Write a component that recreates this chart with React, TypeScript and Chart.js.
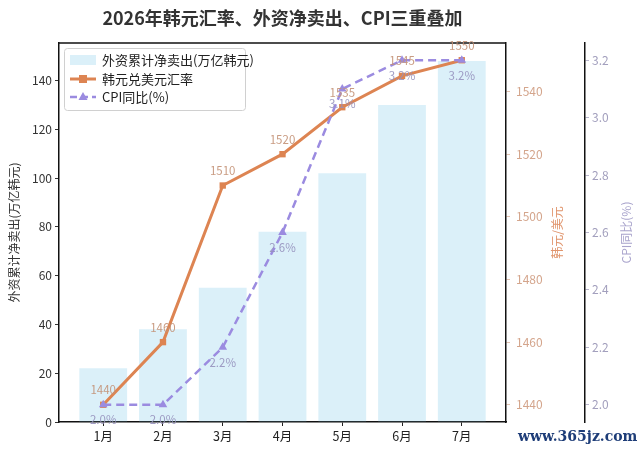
import React, { useEffect, useRef } from "react";
import { Chart, registerables } from "chart.js";
Chart.register(...registerables);

const months = ["1月", "2月", "3月", "4月", "5月", "6月", "7月"];
const foreignSell = [22, 38, 55, 78, 102, 130, 148];
const krwRate = [1440, 1460, 1510, 1520, 1535, 1545, 1550];
const cpiYoY = [2.0, 2.0, 2.2, 2.6, 3.1, 3.2, 3.2];
const leftTicks = [0, 20, 40, 60, 80, 100, 120, 140];
const rateTicks = [1440, 1460, 1480, 1500, 1520, 1540];
const cpiTicks = [2.0, 2.2, 2.4, 2.6, 2.8, 3.0, 3.2];

const TITLE = "2026年韩元汇率、外资净卖出、CPI三重叠加";
const BAR_LABEL = "外资累计净卖出(万亿韩元)";
const RATE_LABEL = "韩元兑美元汇率";
const CPI_LABEL = "CPI同比(%)";
const LEFT_AXIS_TITLE = "外资累计净卖出(万亿韩元)";
const RATE_AXIS_TITLE = "韩元/美元";
const CPI_AXIS_TITLE = "CPI同比(%)";

const FONT = "'Noto Sans CJK SC', 'Noto Sans', sans-serif";
const BAR_COLOR = "rgba(135,206,235,0.3)";
const ORANGE = "#dd8452";
const PURPLE = "#9b8be0";
const RATE_TEXT = "#d4a58c";
const CPI_TEXT = "#a29fbd";

const overlayPlugin = {
  id: "overlay",
  afterDatasetsDraw(chart: any) {
    const ctx = chart.ctx;
    const a = chart.chartArea;
    ctx.save();
    ctx.strokeStyle = "#111";
    ctx.lineWidth = 1.5;
    ctx.beginPath();
    ctx.moveTo(a.left, a.top);
    ctx.lineTo(a.right, a.top);
    ctx.stroke();

    ctx.font = `11.5px ${FONT}`;
    ctx.textAlign = "center";
    ctx.textBaseline = "middle";
    const m1 = chart.getDatasetMeta(1);
    m1.data.forEach((pt: any, i: number) => {
      ctx.fillStyle = "rgba(195,145,118,0.9)";
      ctx.fillText(String(krwRate[i]), pt.x, pt.y - 15);
    });
    const m2 = chart.getDatasetMeta(2);
    m2.data.forEach((pt: any, i: number) => {
      ctx.fillStyle = "rgba(150,145,190,0.9)";
      ctx.fillText(cpiYoY[i].toFixed(1) + "%", pt.x, pt.y + 15);
    });
    ctx.restore();
  },
  afterDraw(chart: any) {
    const ctx = chart.ctx;
    const a = chart.chartArea;
    ctx.save();
    ctx.fillStyle = "#333";
    ctx.font = `bold 18px ${FONT}`;
    ctx.textAlign = "center";
    ctx.textBaseline = "middle";
    ctx.fillText(TITLE, (a.left + a.right) / 2, 18);

    const cy = (a.top + a.bottom) / 2;
    const drawV = (text: string, x: number, color: string) => {
      ctx.save();
      ctx.translate(x, cy);
      ctx.rotate(-Math.PI / 2);
      ctx.fillStyle = color;
      ctx.font = `12px ${FONT}`;
      ctx.textAlign = "center";
      ctx.textBaseline = "middle";
      ctx.fillText(text, 0, 0);
      ctx.restore();
    };
    drawV(LEFT_AXIS_TITLE, 14, "#333");
    drawV(RATE_AXIS_TITLE, 557, "#e0946c");
    drawV(CPI_AXIS_TITLE, 626, "#a9a4cc");

    const lx = a.left + 5;
    const ly = a.top + 5;
    const lw = 181;
    const lh = 62;
    ctx.fillStyle = "rgba(255,255,255,0.85)";
    ctx.strokeStyle = "#d0d0d0";
    ctx.lineWidth = 1;
    ctx.beginPath();
    (ctx as any).roundRect ? (ctx as any).roundRect(lx + 0.5, ly + 0.5, lw, lh, 3) : ctx.rect(lx + 0.5, ly + 0.5, lw, lh);
    ctx.fill();
    ctx.stroke();

    const hx0 = lx + 6;
    const hx1 = lx + 32;
    const rows = [ly + 12, ly + 31, ly + 49];
    ctx.fillStyle = BAR_COLOR;
    ctx.fillRect(hx0, rows[0] - 5, hx1 - hx0, 10);
    ctx.strokeStyle = ORANGE;
    ctx.lineWidth = 3;
    ctx.beginPath();
    ctx.moveTo(hx0, rows[1]);
    ctx.lineTo(hx1, rows[1]);
    ctx.stroke();
    ctx.fillStyle = ORANGE;
    ctx.fillRect((hx0 + hx1) / 2 - 4, rows[1] - 4, 8, 8);
    ctx.strokeStyle = PURPLE;
    ctx.lineWidth = 2.5;
    ctx.setLineDash([7, 4]);
    ctx.beginPath();
    ctx.moveTo(hx0, rows[2]);
    ctx.lineTo(hx1, rows[2]);
    ctx.stroke();
    ctx.setLineDash([]);
    const tx = (hx0 + hx1) / 2;
    ctx.fillStyle = PURPLE;
    ctx.beginPath();
    ctx.moveTo(tx, rows[2] - 5);
    ctx.lineTo(tx + 4.5, rows[2] + 3);
    ctx.lineTo(tx - 4.5, rows[2] + 3);
    ctx.closePath();
    ctx.fill();

    ctx.fillStyle = "#222";
    ctx.font = `13px ${FONT}`;
    ctx.textAlign = "left";
    ctx.textBaseline = "middle";
    ctx.fillText(BAR_LABEL, lx + 38, rows[0]);
    ctx.fillText(RATE_LABEL, lx + 38, rows[1]);
    ctx.fillText(CPI_LABEL, lx + 38, rows[2]);
    ctx.restore();
  },
};

export default function App() {
  const ref = useRef<HTMLCanvasElement | null>(null);
  useEffect(() => {
    if (!ref.current) return;
    const chart = new Chart(ref.current, {
      type: "bar",
      data: {
        datasets: [
          {
            type: "bar",
            label: BAR_LABEL,
            data: months.map((_, i) => ({ x: i, y: foreignSell[i] })),
            backgroundColor: BAR_COLOR,
            borderWidth: 0,
            barPercentage: 0.8,
            categoryPercentage: 1.0,
            yAxisID: "y",
            xAxisID: "x",
            order: 3,
          } as any,
          {
            type: "line",
            label: RATE_LABEL,
            data: months.map((_, i) => ({ x: i, y: krwRate[i] })),
            borderColor: ORANGE,
            backgroundColor: ORANGE,
            borderWidth: 3,
            pointStyle: "rect",
            pointRadius: 4.5,
            pointBorderWidth: 0,
            tension: 0,
            yAxisID: "y1",
            xAxisID: "x",
            order: 2,
          } as any,
          {
            type: "line",
            label: CPI_LABEL,
            data: months.map((_, i) => ({ x: i, y: cpiYoY[i] })),
            borderColor: PURPLE,
            backgroundColor: PURPLE,
            borderWidth: 2.5,
            borderDash: [8, 5],
            pointStyle: "triangle",
            pointRadius: 5,
            pointBorderWidth: 0,
            tension: 0,
            yAxisID: "y2",
            xAxisID: "x",
            order: 1,
          } as any,
        ],
      },
      options: {
        responsive: false,
        animation: false,
        layout: { padding: { top: 43, left: 0, right: 0, bottom: 0 } },
        plugins: {
          legend: { display: false },
          title: { display: false },
          tooltip: { enabled: false },
        },
        scales: {
          x: {
            type: "linear",
            position: "bottom",
            min: -0.74,
            max: 6.74,
            offset: false,
            afterBuildTicks: (s: any) => {
              s.ticks = months.map((_, i) => ({ value: i }));
            },
            afterFit: (s: any) => {
              s.height = 32;
            },
            ticks: {
              callback: (v: any) => months[Math.round(Number(v))] ?? "",
              color: "#222",
              font: { family: FONT, size: 12.5 },
              padding: 3,
              maxRotation: 0,
              autoSkip: false,
            },
            grid: { offset: false, drawOnChartArea: false, drawTicks: true, tickLength: 4, color: "#222" },
            border: { display: true, color: "#111", width: 1.5 },
          },
          y: {
            type: "linear",
            position: "left",
            min: 0,
            max: 155.4,
            afterBuildTicks: (s: any) => {
              s.ticks = leftTicks.map((v) => ({ value: v }));
            },
            afterFit: (s: any) => {
              s.width = 59;
            },
            ticks: { color: "#333", font: { family: FONT, size: 12 }, padding: 3, callback: (v: any) => String(v) },
            grid: { drawOnChartArea: false, drawTicks: true, tickLength: 4, color: "#333" },
            border: { display: true, color: "#111", width: 1.5 },
          },
          y1: {
            type: "linear",
            position: "right",
            min: 1434.5,
            max: 1555.5,
            afterBuildTicks: (s: any) => {
              s.ticks = rateTicks.map((v) => ({ value: v }));
            },
            afterFit: (s: any) => {
              s.width = 79;
            },
            ticks: {
              color: RATE_TEXT,
              font: { family: FONT, size: 12 },
              padding: 6,
              callback: (v: any) => String(Math.round(Number(v))),
            },
            grid: { drawOnChartArea: false, drawTicks: true, tickLength: 4, color: "#e3c2b0" },
            border: { display: true, color: "#111", width: 1.5 },
          },
          y2: {
            type: "linear",
            position: "right",
            min: 1.94,
            max: 3.26,
            afterBuildTicks: (s: any) => {
              s.ticks = cpiTicks.map((v) => ({ value: v }));
            },
            afterFit: (s: any) => {
              s.width = 55;
            },
            ticks: {
              color: CPI_TEXT,
              font: { family: FONT, size: 12 },
              padding: 3,
              callback: (v: any) => Number(v).toFixed(1),
            },
            grid: { drawOnChartArea: false, drawTicks: true, tickLength: 4, color: "#b8b5cc" },
            border: { display: true, color: "#111", width: 1.5 },
          },
        },
      } as any,
      plugins: [overlayPlugin],
    });
    return () => chart.destroy();
  }, []);

  return (
    <div style={{ position: "fixed", left: 0, top: 0, width: 640, height: 454, background: "#fff" }}>
      <canvas ref={ref} width={640} height={454} />
      <div
        style={{
          position: "absolute",
          left: 518,
          top: 428,
          fontFamily: "'DejaVu Serif', 'Liberation Serif', serif",
          fontWeight: "bold",
          fontSize: 14,
          color: "#1e3d78",
          whiteSpace: "nowrap",
        }}
      >
        www.365jz.com
      </div>
    </div>
  );
}
